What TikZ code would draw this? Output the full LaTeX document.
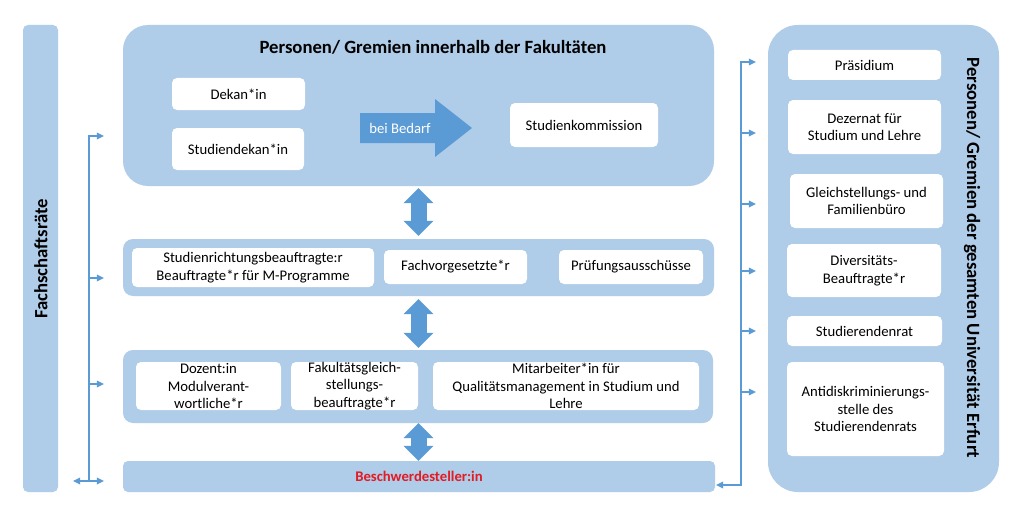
\documentclass[tikz,border=0pt]{standalone}
\usepackage{fontspec}
\setmainfont{Carlito}
\usetikzlibrary{arrows.meta}
\definecolor{panelBlue}{RGB}{175,204,232}
\definecolor{arrowBlue}{RGB}{91,155,213}
\definecolor{complaintRed}{RGB}{226,27,36}

\begin{document}
\begin{tikzpicture}
[x=1pt,y=-1pt,%
  panelDecorate/.style={shape=rectangle,fill=panelBlue,inner sep=0pt,rounded corners=#1},%
  panelDecorate/.default=5pt,%
  boxDecorate/.style={shape=rectangle,fill=white,rounded corners=5pt,inner xsep=2pt,inner ysep=-4pt,align=center,font=\fontsize{14.7pt}{17.5pt}\selectfont},%
  titleDecorate/.style={font=\fontsize{18.7pt}{22pt}\selectfont\bfseries},%
  bigArrowDecorate/.style={draw=arrowBlue,line width=16pt,{Triangle[width=30pt,length=15pt,line width=0pt]}-{Triangle[width=30pt,length=15pt,line width=0pt]}},%
  busDecorate/.style={draw=arrowBlue,line width=2pt},%
  tipDecorate/.style={-{Triangle[width=7pt,length=7pt,line width=0pt]}},%
  bothTipDecorate/.style={{Triangle[width=7pt,length=7pt,line width=0pt]}-{Triangle[width=7pt,length=7pt,line width=0pt]}}]
\fill[white] (0,0) rectangle (1023,519);
\useasboundingbox (0,0) rectangle (1023,519);
%% panels
\node (fakPanel) at (418.5,105.5) [panelDecorate=25pt,minimum width=591pt,minimum height=161pt] {};
\node (midPanel) at (418.5,267.5) [panelDecorate=10pt,minimum width=591pt,minimum height=57pt] {};
\node (lowPanel) at (418,386.5) [panelDecorate=10pt,minimum width=590pt,minimum height=73pt] {};
\node (beschwerde) at (419,476.5) [panelDecorate,minimum width=592pt,minimum height=31pt,text=complaintRed,font=\fontsize{14.7pt}{17.9pt}\selectfont\bfseries] {Beschwerdesteller:in};
\node (fachschaft) at (40.5,258.5) [panelDecorate,minimum width=35pt,minimum height=467pt] {};
\node (uniPanel) at (883.5,258.5) [panelDecorate=30pt,minimum width=231pt,minimum height=467pt] {};
\node (fakTitle) at (433,47) [titleDecorate] {Personen/ Gremien innerhalb der Fakultäten};
\node (fachschaftTitle) at (41,259) [titleDecorate,rotate=90] {Fachschaftsräte};
\node (uniTitle) at (972,258) [titleDecorate,rotate=-90] {Personen/ Gremien der gesamten Universität Erfurt};
%% white boxes
\foreach \nodename/\x/\y/\w/\h/\boxtext in {%
  dekan/238.5/94/133/32/{Dekan*in},
  studiendekan/238/149/132/42/{Studiendekan*in},
  studienkommission/584/125/148/44/{Studienkommission},
  studienrichtung/253/267.5/242/39/{Studienrichtungsbeauftragte:r\\Beauftragte*r für M-Programme},
  fachvorgesetzte/455.5/267/143/34/{Fachvorgesetzte*r},
  pruefung/631/267/144/34/{Prüfungsausschüsse},
  dozent/208.5/386/145/48/{Dozent:in\\Modulverant-\\wortliche*r},
  gleichstellungFak/354.5/386/127/48/{Fakultätsgleich-\\stellungs-\\beauftragte*r},
  mitarbeiter/566/386/266/48/{Mitarbeiter*in für\\Qualitätsmanagement in Studium und\\Lehre},
  praesidium/864.5/65/153/30/{Präsidium},
  dezernat/864.5/127/153/54/{Dezernat für\\Studium und Lehre},
  gleichstellung/866.5/201/153/54/{Gleichstellungs- und\\Familienbüro},
  diversitaet/864/270.5/154/53/{Diversitäts-\\Beauftragte*r},
  stura/864.5/331/155/30/{Studierendenrat},
  antidiskriminierung/865.5/409/157/94/{Antidiskriminierungs-\\stelle des\\Studierendenrats}}
{
  \node (\nodename) at (\x,\y) [boxDecorate,minimum width=\w pt,minimum height=\h pt] {\boxtext};
}
%% bei Bedarf
\fill[arrowBlue] (360,113) -- (435,113) -- (435,99) -- (472,128) -- (435,157) -- (435,143) -- (360,143) -- cycle;
\node (bedarf) at (400,128) [text=white,font=\fontsize{14.7pt}{17.9pt}\selectfont] {bei Bedarf};
%% double arrows
\draw[bigArrowDecorate,shorten <=2pt,shorten >=3pt] (fakPanel.south) -- (midPanel.north);
\draw[bigArrowDecorate,shorten <=3pt,shorten >=2pt] (midPanel.south) -- (lowPanel.north -| midPanel.south);
\draw[bigArrowDecorate] (lowPanel.south -| midPanel.south) -- (beschwerde.north -| midPanel.south);
%% left bus
\draw[busDecorate,tipDecorate,shorten >=19pt] (89,481) |- (fakPanel.west |- 0,136);
\foreach \target/\y in {midPanel/278, lowPanel/384}
{
  \draw[busDecorate,tipDecorate,shorten >=19pt] (89,\y) -- (\target.west |- 0,\y);
}
\draw[busDecorate,bothTipDecorate,shorten <=15pt,shorten >=19pt] (fachschaft.east |- 0,481) -- (beschwerde.west |- 0,481);
%% right bus
\draw[busDecorate,bothTipDecorate,shorten <=1pt,shorten >=12pt] (beschwerde.east |- 0,485) -| (741,62) -- (uniPanel.west |- 0,62);
\foreach \y in {133, 204, 271, 331, 392}
{
  \draw[busDecorate,tipDecorate,shorten >=12pt] (741,\y) -- (uniPanel.west |- 0,\y);
}
\end{tikzpicture}
\end{document}
